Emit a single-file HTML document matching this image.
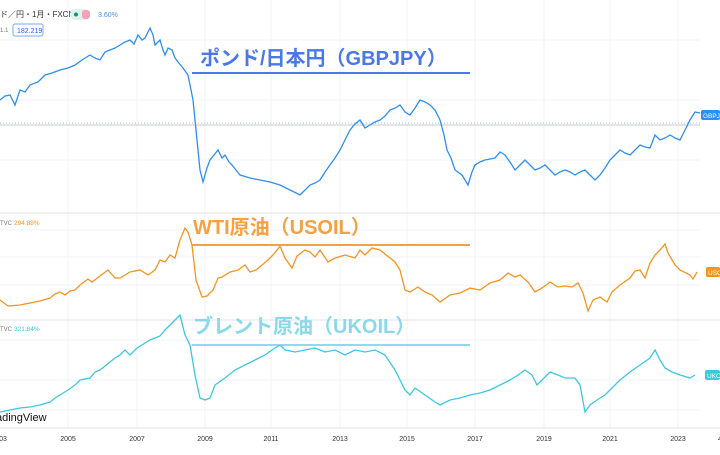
<!DOCTYPE html><html><head><meta charset="utf-8"><style>
body{margin:0;width:720px;height:450px;overflow:hidden;background:#fff;font-family:"Liberation Sans","Noto Sans CJK JP",sans-serif;}
</style></head><body>
<svg width="720" height="450" viewBox="0 0 720 450" xmlns="http://www.w3.org/2000/svg" font-family="Liberation Sans, Noto Sans CJK JP, sans-serif">
<g stroke="#f0f3fa" stroke-width="1">
<line x1="68" y1="0" x2="68" y2="428"/><line x1="137" y1="0" x2="137" y2="428"/><line x1="205" y1="0" x2="205" y2="428"/><line x1="271" y1="0" x2="271" y2="428"/><line x1="340" y1="0" x2="340" y2="428"/><line x1="407" y1="0" x2="407" y2="428"/><line x1="475" y1="0" x2="475" y2="428"/><line x1="544" y1="0" x2="544" y2="428"/><line x1="610" y1="0" x2="610" y2="428"/><line x1="678" y1="0" x2="678" y2="428"/>
<line x1="0" y1="40" x2="700" y2="40"/><line x1="0" y1="100" x2="700" y2="100"/><line x1="0" y1="160" x2="700" y2="160"/><line x1="0" y1="230" x2="700" y2="230"/><line x1="0" y1="257" x2="700" y2="257"/><line x1="0" y1="285" x2="700" y2="285"/><line x1="0" y1="340" x2="700" y2="340"/><line x1="0" y1="380" x2="700" y2="380"/><line x1="0" y1="410" x2="700" y2="410"/>
</g>
<line x1="0" y1="213" x2="720" y2="213" stroke="#e0e3eb"/>
<line x1="0" y1="320" x2="720" y2="320" stroke="#e0e3eb"/>
<line x1="0" y1="428" x2="720" y2="428" stroke="#e0e3eb"/>
<line x1="0" y1="125" x2="700" y2="125" stroke="#c8c8c8"/>
<line x1="0" y1="123" x2="700" y2="123" stroke="#9cc4f4" stroke-dasharray="1 2"/>
<polyline fill="none" stroke="#2f8ff0" stroke-width="1.3" points="0,100 5,96 10,95 15,105 20,90 25,92 30,85 38,82 45,75 52,73 60,70 68,68 75,65 82,60 90,55 95,58 100,60 105,52 110,50 115,48 120,45 125,42 130,40 134,44 138,35 142,40 145,38 150,28 153,35 155,45 158,42 160,40 163,50 165,55 168,48 172,50 175,58 178,62 183,68 188,75 193,100 197,140 200,170 203,182 207,168 210,160 214,155 218,150 222,158 225,155 229,162 232,165 236,170 240,175 250,178 260,180 270,182 280,185 290,190 300,195 305,190 310,185 315,183 320,180 325,172 330,165 335,158 340,150 345,140 350,130 355,124 360,120 365,128 370,125 375,122 380,120 385,116 390,110 395,108 400,105 405,112 410,115 415,108 420,100 425,102 430,105 435,110 440,120 444,135 447,150 451,158 455,170 462,175 468,185 472,172 475,165 480,162 485,160 490,159 495,158 500,152 505,155 510,162 515,170 520,165 525,160 530,165 535,170 540,168 545,165 550,170 555,175 560,172 565,170 570,172 575,175 580,172 585,170 590,175 595,180 600,175 605,168 610,160 615,155 620,150 625,153 630,155 635,150 640,145 645,147 650,148 655,135 660,140 665,138 670,135 675,138 680,140 685,130 690,120 695,112 700,113"/>
<polyline fill="none" stroke="#f7931e" stroke-width="1.3" points="0,300 8,306 20,305 30,303 40,301 50,298 55,294 60,292 65,295 70,291 75,290 80,285 88,279 92,282 100,276 108,270 115,278 120,278 125,275 130,272 140,270 148,275 155,270 160,260 165,262 170,255 175,258 180,240 185,228 188,232 192,245 196,280 202,297 207,296 213,290 218,278 222,277 230,272 238,270 245,265 250,272 256,270 262,265 268,260 273,255 280,246 285,258 292,268 297,256 305,250 310,252 315,257 320,250 328,262 335,258 345,255 355,258 360,250 365,255 372,248 380,250 390,258 395,262 400,270 405,290 410,292 418,287 425,292 432,295 440,302 450,295 460,293 470,288 480,290 490,283 500,280 508,273 515,277 520,275 528,282 535,292 542,288 550,282 558,287 565,286 572,287 578,283 583,293 588,311 593,300 600,297 607,302 612,292 620,285 630,278 635,271 640,270 645,278 650,263 655,255 660,250 665,244 668,253 675,265 680,270 690,275 693,279 697,272"/>
<polyline fill="none" stroke="#3cc8e0" stroke-width="1.3" points="0,412 10,410 20,408 30,407 40,405 50,402 55,398 60,395 68,390 75,385 80,380 90,378 95,372 100,370 110,362 115,358 120,355 125,350 130,355 137,348 142,345 150,340 160,336 165,330 175,320 180,315 185,335 190,345 195,375 200,398 205,400 210,398 215,385 225,378 235,370 245,365 255,360 265,355 275,348 280,345 285,350 295,352 305,350 315,348 325,352 335,350 345,355 355,350 365,352 375,350 385,355 395,370 405,390 410,395 415,388 425,395 435,402 440,405 450,400 460,398 470,395 480,393 490,390 500,385 510,380 518,375 525,370 532,375 537,385 542,380 550,372 558,375 565,378 575,378 580,385 585,412 590,405 600,398 605,395 612,388 620,380 630,372 640,365 650,358 655,350 660,360 665,368 672,372 680,375 690,378 695,375"/>
<text x="200" y="65" font-size="20" font-weight="bold" fill="#4a78e8">ポンド/日本円（GBPJPY）</text>
<line x1="192" y1="73" x2="470" y2="73" stroke="#4a78e8" stroke-width="2"/>
<text x="193" y="234" font-size="20" font-weight="bold" fill="#f7a040">WTI原油（USOIL）</text>
<line x1="192" y1="245" x2="470" y2="245" stroke="#f7a040" stroke-width="2"/>
<text x="193" y="333" font-size="20" font-weight="bold" fill="#8ad8ea">ブレント原油（UKOIL）</text>
<line x1="192" y1="345" x2="470" y2="345" stroke="#6ccde2" stroke-width="1.5"/>
<text x="0" y="17" font-size="8" fill="#333">ド／円・1月・FXCM</text>
<rect x="70" y="9" width="20" height="11" rx="5" fill="#e0f2ec"/><circle cx="76" cy="14.5" r="2" fill="#089981"/><rect x="82" y="10" width="8" height="9" rx="3" fill="#f7a1b5"/>
<text x="98" y="17" font-size="7" fill="#4a90e2">3.60%</text>
<text x="0" y="32" font-size="6" fill="#777">1.1</text>
<rect x="13" y="24" width="30" height="12" rx="2" fill="#fff" stroke="#7aa8f0"/><text x="17" y="33" font-size="7" fill="#2962ff">182.219</text>
<text x="0" y="225" font-size="6" fill="#777">TVC</text><text x="14" y="225" font-size="6.5" fill="#f7931e">294.88%</text>
<text x="0" y="331" font-size="6" fill="#777">TVC</text><text x="14" y="331" font-size="6.5" fill="#3cc8e0">321.84%</text>
<rect x="701" y="110" width="19" height="10" rx="2" fill="#2f8ff0"/><text x="703" y="118" font-size="6.5" fill="#fff">GBPJP</text>
<rect x="706" y="267" width="14" height="10" rx="2" fill="#f7931e"/><text x="708" y="275" font-size="6.5" fill="#fff">USO</text>
<rect x="705" y="370" width="15" height="10" rx="2" fill="#3cc8e0"/><text x="707" y="378" font-size="6.5" fill="#fff">UKO</text>
<text x="-4" y="421" font-size="11" fill="#111">adingView</text>
<g font-size="7" fill="#333" text-anchor="middle">
<text x="3" y="441">03</text><text x="68" y="441">2005</text><text x="137" y="441">2007</text><text x="205" y="441">2009</text><text x="271" y="441">2011</text><text x="340" y="441">2013</text><text x="407" y="441">2015</text><text x="475" y="441">2017</text><text x="544" y="441">2019</text><text x="610" y="441">2021</text><text x="678" y="441">2023</text><text x="720" y="441">4</text>
</g>
</svg>
</body></html>
